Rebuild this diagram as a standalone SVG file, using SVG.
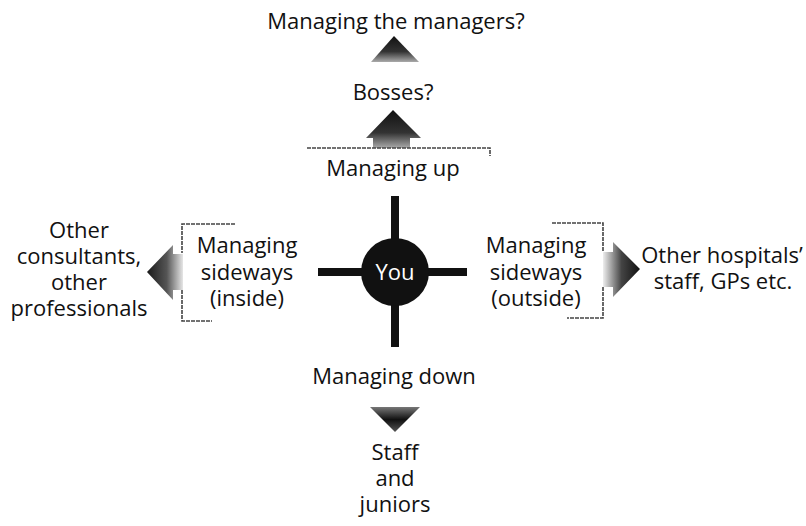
<svg xmlns="http://www.w3.org/2000/svg" width="806" height="526" viewBox="0 0 806 526">
<style>
text{font-family:"Open Sans","Noto Sans","Liberation Sans",sans-serif;font-size:22px;fill:#111;text-anchor:middle}
.bar{fill:#111}
.br{fill:none;stroke:#444;stroke-width:1.6;stroke-dasharray:4 1}
</style>
<defs>
<linearGradient id="gUp" x1="0" y1="0" x2="0" y2="1">
<stop offset="0" stop-color="#111"/><stop offset="0.6" stop-color="#333"/><stop offset="1" stop-color="#aaa"/>
</linearGradient>
<linearGradient id="gDown" x1="0" y1="1" x2="0" y2="0">
<stop offset="0" stop-color="#555"/><stop offset="0.5" stop-color="#111"/><stop offset="1" stop-color="#777"/>
</linearGradient>
<linearGradient id="gLeft" x1="0" y1="0" x2="1" y2="0">
<stop offset="0" stop-color="#1a1a1a"/><stop offset="0.55" stop-color="#555"/><stop offset="1" stop-color="#e6e6e6"/>
</linearGradient>
<linearGradient id="gRight" x1="1" y1="0" x2="0" y2="0">
<stop offset="0" stop-color="#111"/><stop offset="0.5" stop-color="#444"/><stop offset="1" stop-color="#eee"/>
</linearGradient>
</defs>
<g id="connectors">
<rect class="bar" x="391" y="196" width="8" height="151"/>
<rect class="bar" x="318" y="268" width="149" height="8"/>
<polygon fill="url(#gUp)" points="394,36 419,62 371,62"/>
<polygon fill="url(#gUp)" points="393,110 421,138 410,138 410,148 373,148 373,138 366,138"/>
<polyline class="br" points="307,148 490,148 490,156"/>
<polygon fill="url(#gDown)" points="370,407 420,407 395,432"/>
<polygon fill="url(#gLeft)" points="147,272 173,245 173,254 183,254 183,290 173,290 173,300"/>
<polyline class="br" points="235,224 182,224 182,253"/>
<polyline class="br" points="182,290 182,321 212,321"/>
<polygon fill="url(#gRight)" points="640,269 613,242 613,252 603,252 603,287 613,287 613,297"/>
<polyline class="br" points="552,223 603,223 603,252"/>
<polyline class="br" points="603,287 603,318 567,318"/>
</g>
<g id="you"><circle cx="395" cy="272" r="34" fill="#111"/><text x="395" y="280" style="fill:#fff">You</text></g>
<g id="managers"><text x="396" y="29">Managing the managers?</text></g>
<g id="bosses"><text x="393" y="100">Bosses?</text></g>
<g id="up"><text x="393" y="176">Managing up</text></g>
<g id="inside"><text x="247" y="253">Managing</text><text x="247" y="280">sideways</text><text x="247" y="306">(inside)</text></g>
<g id="outside"><text x="536" y="253">Managing</text><text x="536" y="280">sideways</text><text x="536" y="306">(outside)</text></g>
<g id="other"><text x="79" y="238">Other</text><text x="79" y="264">consultants,</text><text x="79" y="290">other</text><text x="79" y="316">professionals</text></g>
<g id="hospitals"><text x="722" y="263">Other hospitals’</text><text x="723" y="289">staff, GPs etc.</text></g>
<g id="down"><text x="394" y="384">Managing down</text></g>
<g id="staff"><text x="395" y="460">Staff</text><text x="395" y="486">and</text><text x="395" y="512">juniors</text></g>
</svg>
